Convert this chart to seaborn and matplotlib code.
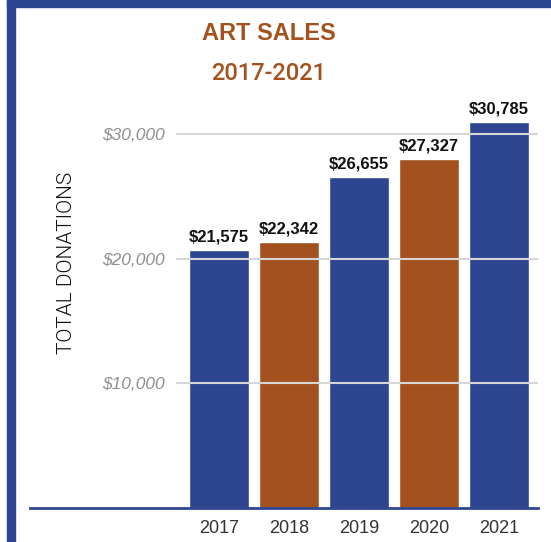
import matplotlib
matplotlib.use("Agg")
import matplotlib.pyplot as plt
import matplotlib.patches as mpatches
import seaborn as sns
import pandas as pd

# datos
years = ["2017", "2018", "2019", "2020", "2021"]
bar_values = [20680, 21320, 26570, 27990, 30960]
value_labels = ["$21,575", "$22,342", "$26,655", "$27,327", "$30,785"]
ytick_values = [10000, 20000, 30000]
ytick_labels = ["$10,000", "$20,000", "$30,000"]

BLUE = "#2E4591"
BROWN = "#A3521F"
bar_colors = [BLUE, BROWN, BLUE, BROWN, BLUE]

sns.set_theme(style="white")
plt.rcParams['font.family'] = ['Liberation Sans', 'DejaVu Sans']

W, H = 551, 542
fig = plt.figure(figsize=(W / 100, H / 100), dpi=100)
ax = fig.add_axes([30 / W, 34.5 / H, 508 / W, 407.5 / H])

df = pd.DataFrame({"year": years, "value": bar_values})
sns.barplot(data=df, x="year", y="value", hue="year", palette=bar_colors,
            legend=False, width=0.857, saturation=1, ax=ax, zorder=2)

for c, lab in zip(ax.containers, value_labels):
    ax.bar_label(c, labels=[lab], padding=4, fontsize=12, fontweight='bold', color='#111111')

ax.set_xlim(-2.7, 4.56)
ax.set_ylim(0, 32731)

# lineas de referencia por encima de las barras
for v in ytick_values:
    ax.axhline(v, xmin=0.289, xmax=1.0, color='#d6d6d6', linewidth=1.5, zorder=3)

ax.set_yticks(ytick_values)
ax.set_yticklabels(ytick_labels, fontsize=12.5, style='italic', color='#8f8f8f')
ax.tick_params(axis='y', length=0, pad=-97)
ax.tick_params(axis='x', length=0, pad=9, labelsize=13, labelcolor='#333333')
ax.set_xlabel('')
ax.set_ylabel('')

for s in ['top', 'right', 'left']:
    ax.spines[s].set_visible(False)
ax.spines['bottom'].set_color(BLUE)
ax.spines['bottom'].set_linewidth(2)
ax.spines['bottom'].set_zorder(4)

# titulo
fig.text(269 / W, 1 - 34 / H, "ART SALES", ha='center', va='center',
         fontsize=17, fontweight='bold', color=BROWN)
fig.text(269 / W, 1 - 74 / H, "2017-2021", ha='center', va='center',
         fontsize=17, fontweight='medium', color=BROWN,
         family=['Roboto', 'Liberation Sans'])

fig.text(66 / W, 1 - 263 / H, "TOTAL DONATIONS", rotation=90, ha='center', va='center',
         fontsize=15, fontweight=300, color='#111111',
         family=['Roboto', 'Liberation Sans'])

# marco azul
fig.patches.append(mpatches.Rectangle((7.3 / W, 0), 8 / W, 1, transform=fig.transFigure,
                                      color=BLUE, zorder=10))
fig.patches.append(mpatches.Rectangle((7.3 / W, 1 - 6.7 / H), 1, 6.7 / H, transform=fig.transFigure,
                                      color=BLUE, zorder=10))

fig.savefig("out.png", dpi=100)
